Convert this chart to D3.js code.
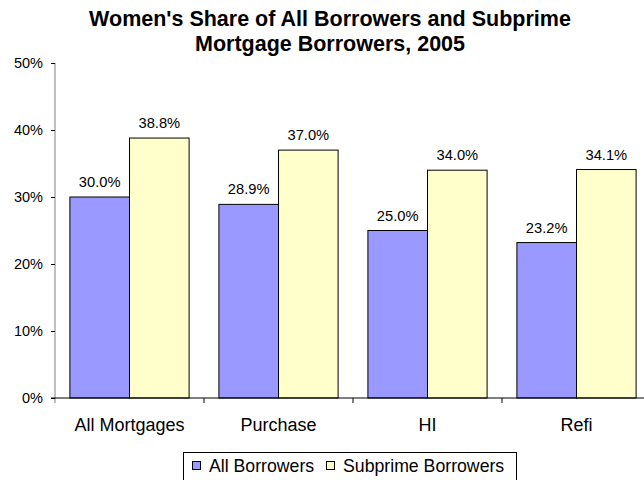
<!DOCTYPE html>
<html><head><meta charset="utf-8">
<script src="https://cdn.jsdelivr.net/npm/d3@7"></script>
<style>body{margin:0;background:#fff}svg{display:block;font-family:"Liberation Sans",Arial,sans-serif}</style>
</head><body>
<svg id="c" width="644" height="480"></svg>
<script>
const categories = ["All Mortgages", "Purchase", "HI", "Refi"];
const seriesNames = ["All Borrowers", "Subprime Borrowers"];
const allBorrowers = [30.0, 28.9, 25.0, 23.2];
const subprimeBorrowers = [38.8, 37.0, 34.0, 34.1];
const yTicks = [0, 10, 20, 30, 40, 50];
const titleLines = ["Women's Share of All Borrowers and Subprime", "Mortgage Borrowers, 2005"];

const colors = ["#9999FF", "#FFFFCC"];
const svg = d3.select("#c");
const x0 = 55, y0 = 398, yTop = 63;
const x = d3.scaleBand().domain(categories).range([x0, x0 + 4 * 149]).paddingInner(0.2).paddingOuter(0.1);
const xs = d3.scaleBand().domain(seriesNames).range([0, x.bandwidth()]);
const y = d3.scaleLinear().domain([0, 50]).range([y0, yTop]);

// title
svg.append("g").selectAll("text").data(titleLines).join("text")
  .attr("x", 330).attr("y", (d, i) => 26 + i * 25)
  .attr("text-anchor", "middle").attr("font-weight", "bold").attr("font-size", 21.5)
  .text(d => d);

const data = [allBorrowers, subprimeBorrowers];
categories.forEach((c, ci) => {
  seriesNames.forEach((s, si) => {
    const v = data[si][ci];
    const bx = x(c) + xs(s);
    svg.append("rect").attr("x", bx).attr("y", y(v)).attr("width", xs.bandwidth()).attr("height", y(0) - y(v))
      .attr("fill", colors[si]).attr("stroke", "#000").attr("stroke-width", 1);
    svg.append("text").attr("x", bx + xs.bandwidth() / 2).attr("y", y(v) - 10)
      .attr("text-anchor", "middle").attr("font-size", 14.7).text(v.toFixed(1) + "%");
  });
});

// y axis
const yAxis = svg.append("g").attr("transform", `translate(${x0},0)`)
  .call(d3.axisLeft(y).tickValues(yTicks).tickFormat(d => d + "%").tickSize(4).tickPadding(8));
yAxis.select(".domain").attr("stroke", "#808080").attr("d", `M0,${yTop}V${y0 + 5}`);
yAxis.selectAll(".tick line").attr("stroke", "#000");
yAxis.selectAll("text").attr("font-size", 14.5).attr("font-family", "Liberation Sans, Arial, sans-serif").attr("fill", "#000");

// x axis
const xAxis = svg.append("g").attr("transform", `translate(0,${y0})`)
  .call(d3.axisBottom(x).tickSize(0).tickPadding(20));
xAxis.select(".domain").attr("stroke", "#000").attr("d", `M${x0 - 4},0H644`);
xAxis.selectAll("text").attr("font-size", 18).attr("font-family", "Liberation Sans, Arial, sans-serif").attr("fill", "#000");
svg.append("g").selectAll("line").data(categories.slice(1)).join("line")
  .attr("x1", d => x(d) - x.step() * 0.1).attr("x2", d => x(d) - x.step() * 0.1)
  .attr("y1", y0).attr("y2", y0 + 5).attr("stroke", "#000");

// legend
const lg = svg.append("g");
lg.append("rect").attr("x", 183.5).attr("y", 452.5).attr("width", 333).attr("height", 35)
  .attr("fill", "#fff").attr("stroke", "#000");
const lx = [192, 326];
seriesNames.forEach((s, i) => {
  lg.append("rect").attr("x", lx[i] + 0.5).attr("y", 461.5).attr("width", 8).attr("height", 8)
    .attr("fill", colors[i]).attr("stroke", "#000");
  lg.append("text").attr("x", lx[i] + 17).attr("y", 472).attr("font-size", 17.7).text(s);
});
</script>
</body></html>
